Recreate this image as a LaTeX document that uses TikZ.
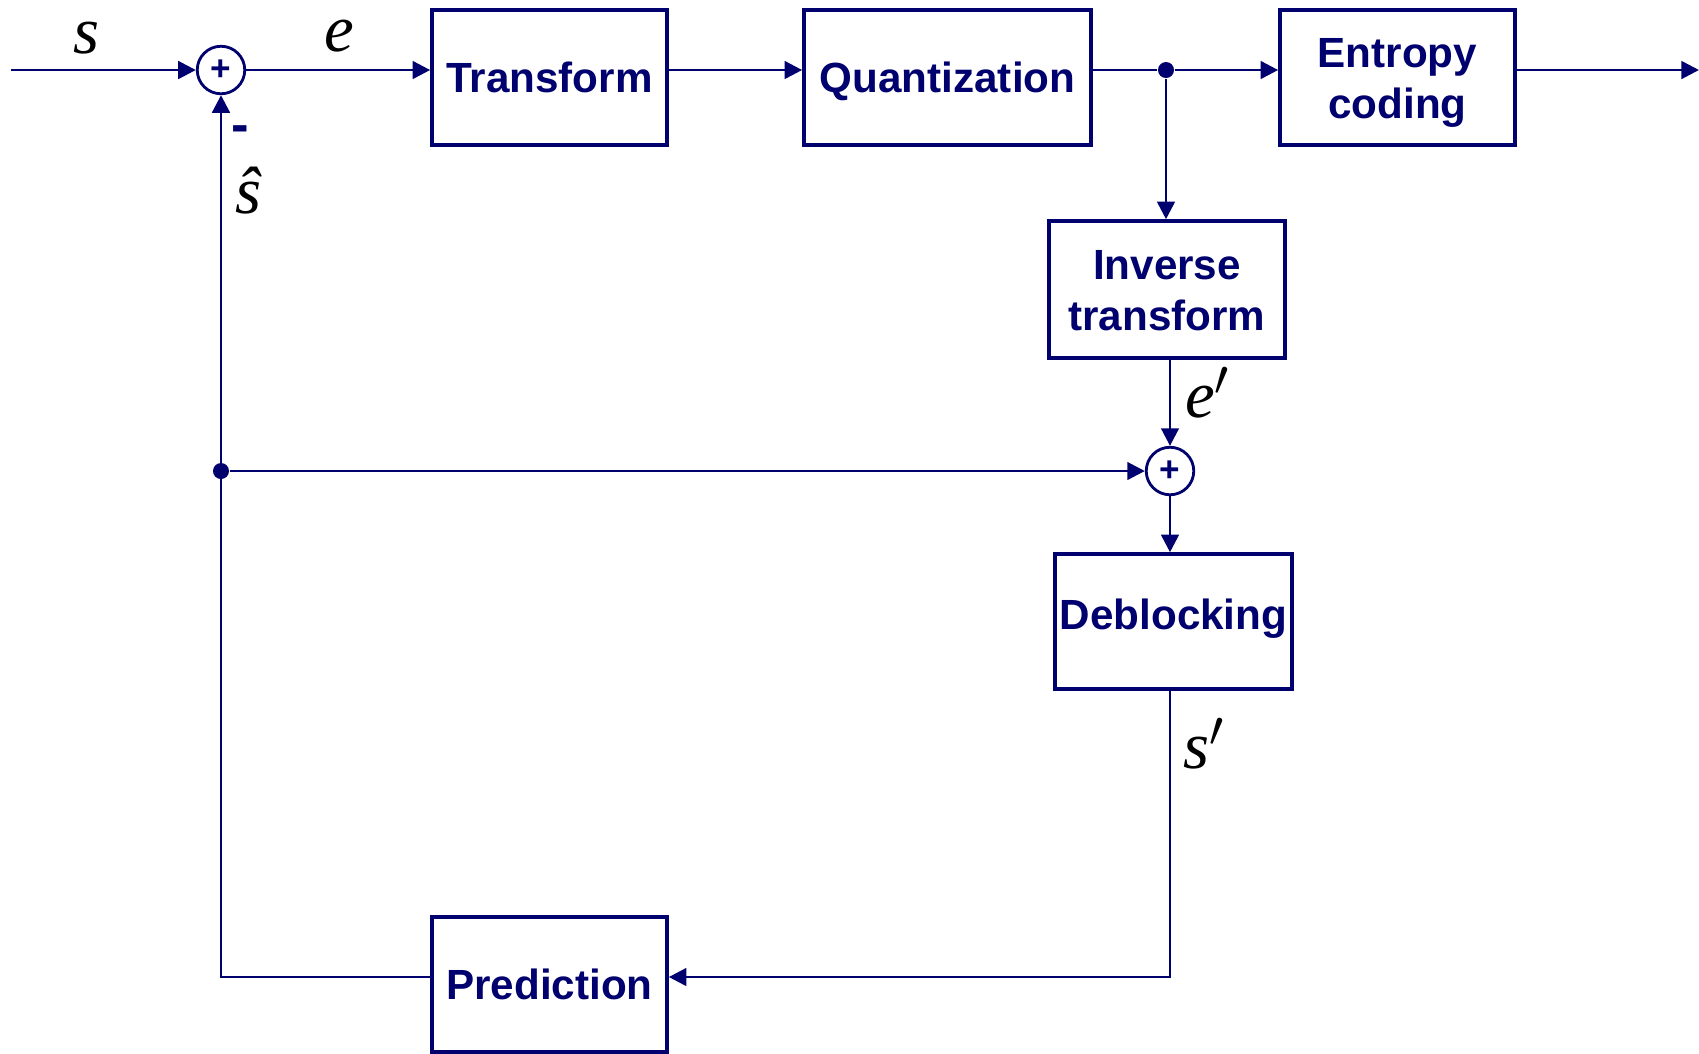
\documentclass[tikz,border=0pt]{standalone}
\usepackage{fontspec}
\setmainfont{Liberation Sans}
\newfontfamily\labfont{Liberation Serif}
\usetikzlibrary{arrows.meta,calc}
\definecolor{navy}{RGB}{0,0,110}
\tikzset{
  blk/.style={draw=navy,line width=1pt,minimum width=2.35cm,minimum height=1.35cm,inner sep=0pt,
    text=navy,align=center,font=\bfseries\fontsize{12}{14.5}\selectfont,
    text height=8.6pt,text depth=0pt},
  twoline/.style={text height=23.1pt,text depth=0pt},
  sumnode/.style={draw=navy,line width=0.8pt,circle,minimum size=0.475cm,inner sep=0pt,
    text=navy,font=\bfseries\fontsize{10}{10}\selectfont},
  conn/.style={draw=navy,line width=0.8pt},
  arr/.style={conn,-{Triangle[length=5pt,width=5pt]}},
  dotnode/.style={circle,fill=navy,minimum size=0.16cm,inner sep=0pt},
  lab/.style={font=\labfont\itshape\fontsize{19}{19}\selectfont,text=black,inner sep=0pt},
}
\begin{document}
\begin{tikzpicture}[x=0.01cm,y=-0.01cm]
\useasboundingbox (0,0) rectangle (1699,1053);
% blocks
\node[blk] (tr) at (549.5,77.5) {Transform};
\node[blk,minimum width=2.87cm] (qu) at (947.5,77.5) {Quantization};
\node[blk,twoline] (en) at (1397.5,77.5) {Entropy\\coding};
\node[blk,twoline,minimum width=2.36cm,minimum height=1.37cm] (it) at (1167,289.5) {Inverse\\transform};
\node[blk,minimum width=2.37cm,text depth=3.8pt] (db) at (1173.5,621.5) {Deblocking};
\node[blk] (pr) at (549.5,984.5) {Prediction};
% summing junctions
\node[sumnode] (s1) at (221,70) {+};
\node[sumnode] (s2) at (1170,471) {+};
% dots
\node[dotnode] (d1) at (1166,70) {};
\node[dotnode] (d2) at (221,471) {};
% coordinates
\coordinate (in) at (11,70);
\coordinate (out) at (1699,70);
\coordinate (c1) at (221,977);
\coordinate (c2) at (1170,977);
% connectors
\draw[arr] (in) -- (s1);
\draw[arr] (s1) -- (s1 -| tr.west);
\draw[arr] (tr.east |- s1) -- (qu.west |- s1);
\draw[conn] (qu.east |- s1) -- (d1);
\draw[arr] (d1) -- (en.west |- d1);
\draw[arr] (en.east |- s1) -- (out);
\draw[arr] (d1) -- (d1 |- it.north);
\draw[arr] (it.south -| s2) -- (s2);
\draw[arr] (d2) -- (s2);
\draw[arr] (s2) -- (s2 |- db.north);
\draw[arr] (db.south -| c2) -- (c2) -- (c2 -| pr.east);
\draw[arr] (pr.west |- c1) -- (c1) -- (s1);
% labels
\node[lab] (ls) at (87,38) {s};
\node[lab] (le) at (339,36) {e};
\node[text=navy,font=\bfseries\fontsize{15}{15}\selectfont,inner sep=0pt] (lm) at (240,134) {-};
\node[lab] (lsh) at (249,191) {\^{s}};
\node[lab] (lep) at (1208,393) {e$'$};
\node[lab] (lsp) at (1204,744) {s$'$};
\end{tikzpicture}
\end{document}
